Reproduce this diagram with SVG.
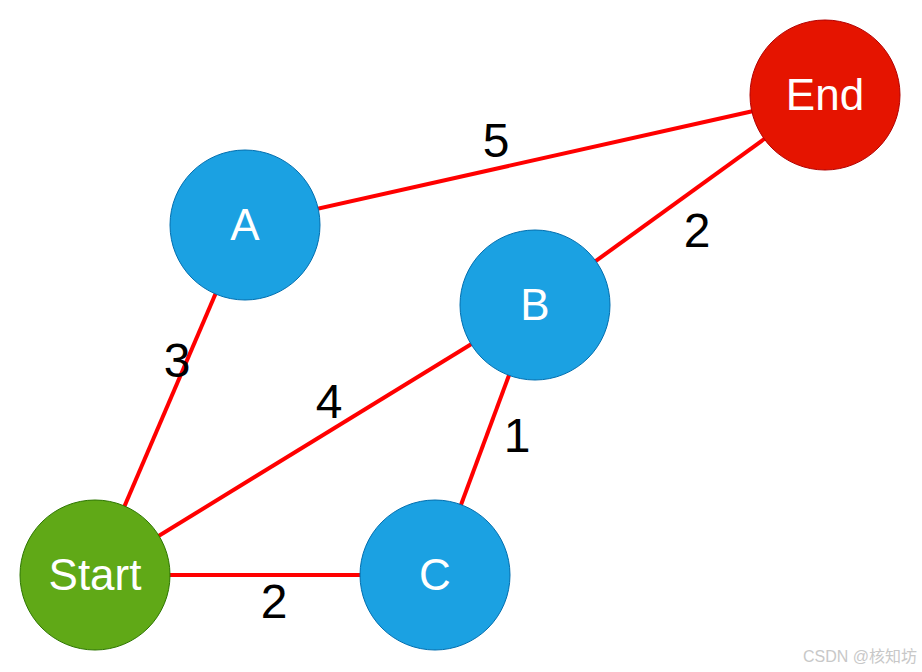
<svg xmlns="http://www.w3.org/2000/svg" width="922" height="672" viewBox="0 0 922 672">
<style>
.edge{stroke:#FF0000;stroke-width:4;fill:none}
.blue{fill:#1BA1E2;stroke:#006EAF;stroke-width:1}
.green{fill:#60A917;stroke:#2D7600;stroke-width:1}
.red{fill:#E51400;stroke:#B20000;stroke-width:1}
.nl{font-family:"Liberation Sans",Arial,sans-serif;font-size:44px;fill:#FFFFFF;text-anchor:middle}
.el{font-family:"Liberation Sans",Arial,sans-serif;font-size:48px;fill:#000000;text-anchor:middle}
.wm{font-family:"Liberation Sans","Noto Sans CJK SC",sans-serif;font-size:16px;fill:#C8C8C8;text-anchor:end}
</style>
<rect width="922" height="672" fill="#FFFFFF"/>
<g id="connectors">
<line class="edge" x1="245" y1="225" x2="825" y2="95"/>
<line class="edge" x1="535" y1="305" x2="825" y2="95"/>
<line class="edge" x1="95" y1="575" x2="245" y2="225"/>
<line class="edge" x1="95" y1="575" x2="535" y2="305"/>
<line class="edge" x1="95" y1="575" x2="435" y2="575"/>
<line class="edge" x1="535" y1="305" x2="435" y2="575"/>
<text class="el" x="496" y="157">5</text>
<text class="el" x="697" y="247">2</text>
<text class="el" x="177" y="377">3</text>
<text class="el" x="329" y="418">4</text>
<text class="el" x="517" y="452">1</text>
<text class="el" x="274" y="618">2</text>
</g>
<g id="node-end"><circle class="red" cx="825" cy="95" r="75"/><text class="nl" x="825" y="110">End</text></g>
<g id="node-a"><circle class="blue" cx="245" cy="225" r="75"/><text class="nl" x="245" y="240">A</text></g>
<g id="node-b"><circle class="blue" cx="535" cy="305" r="75"/><text class="nl" x="535" y="320">B</text></g>
<g id="node-c"><circle class="blue" cx="435" cy="575" r="75"/><text class="nl" x="435" y="590">C</text></g>
<g id="node-start"><circle class="green" cx="95" cy="575" r="75"/><text class="nl" x="95" y="590">Start</text></g>
<text class="wm" x="917" y="662">CSDN @核知坊</text>
</svg>
